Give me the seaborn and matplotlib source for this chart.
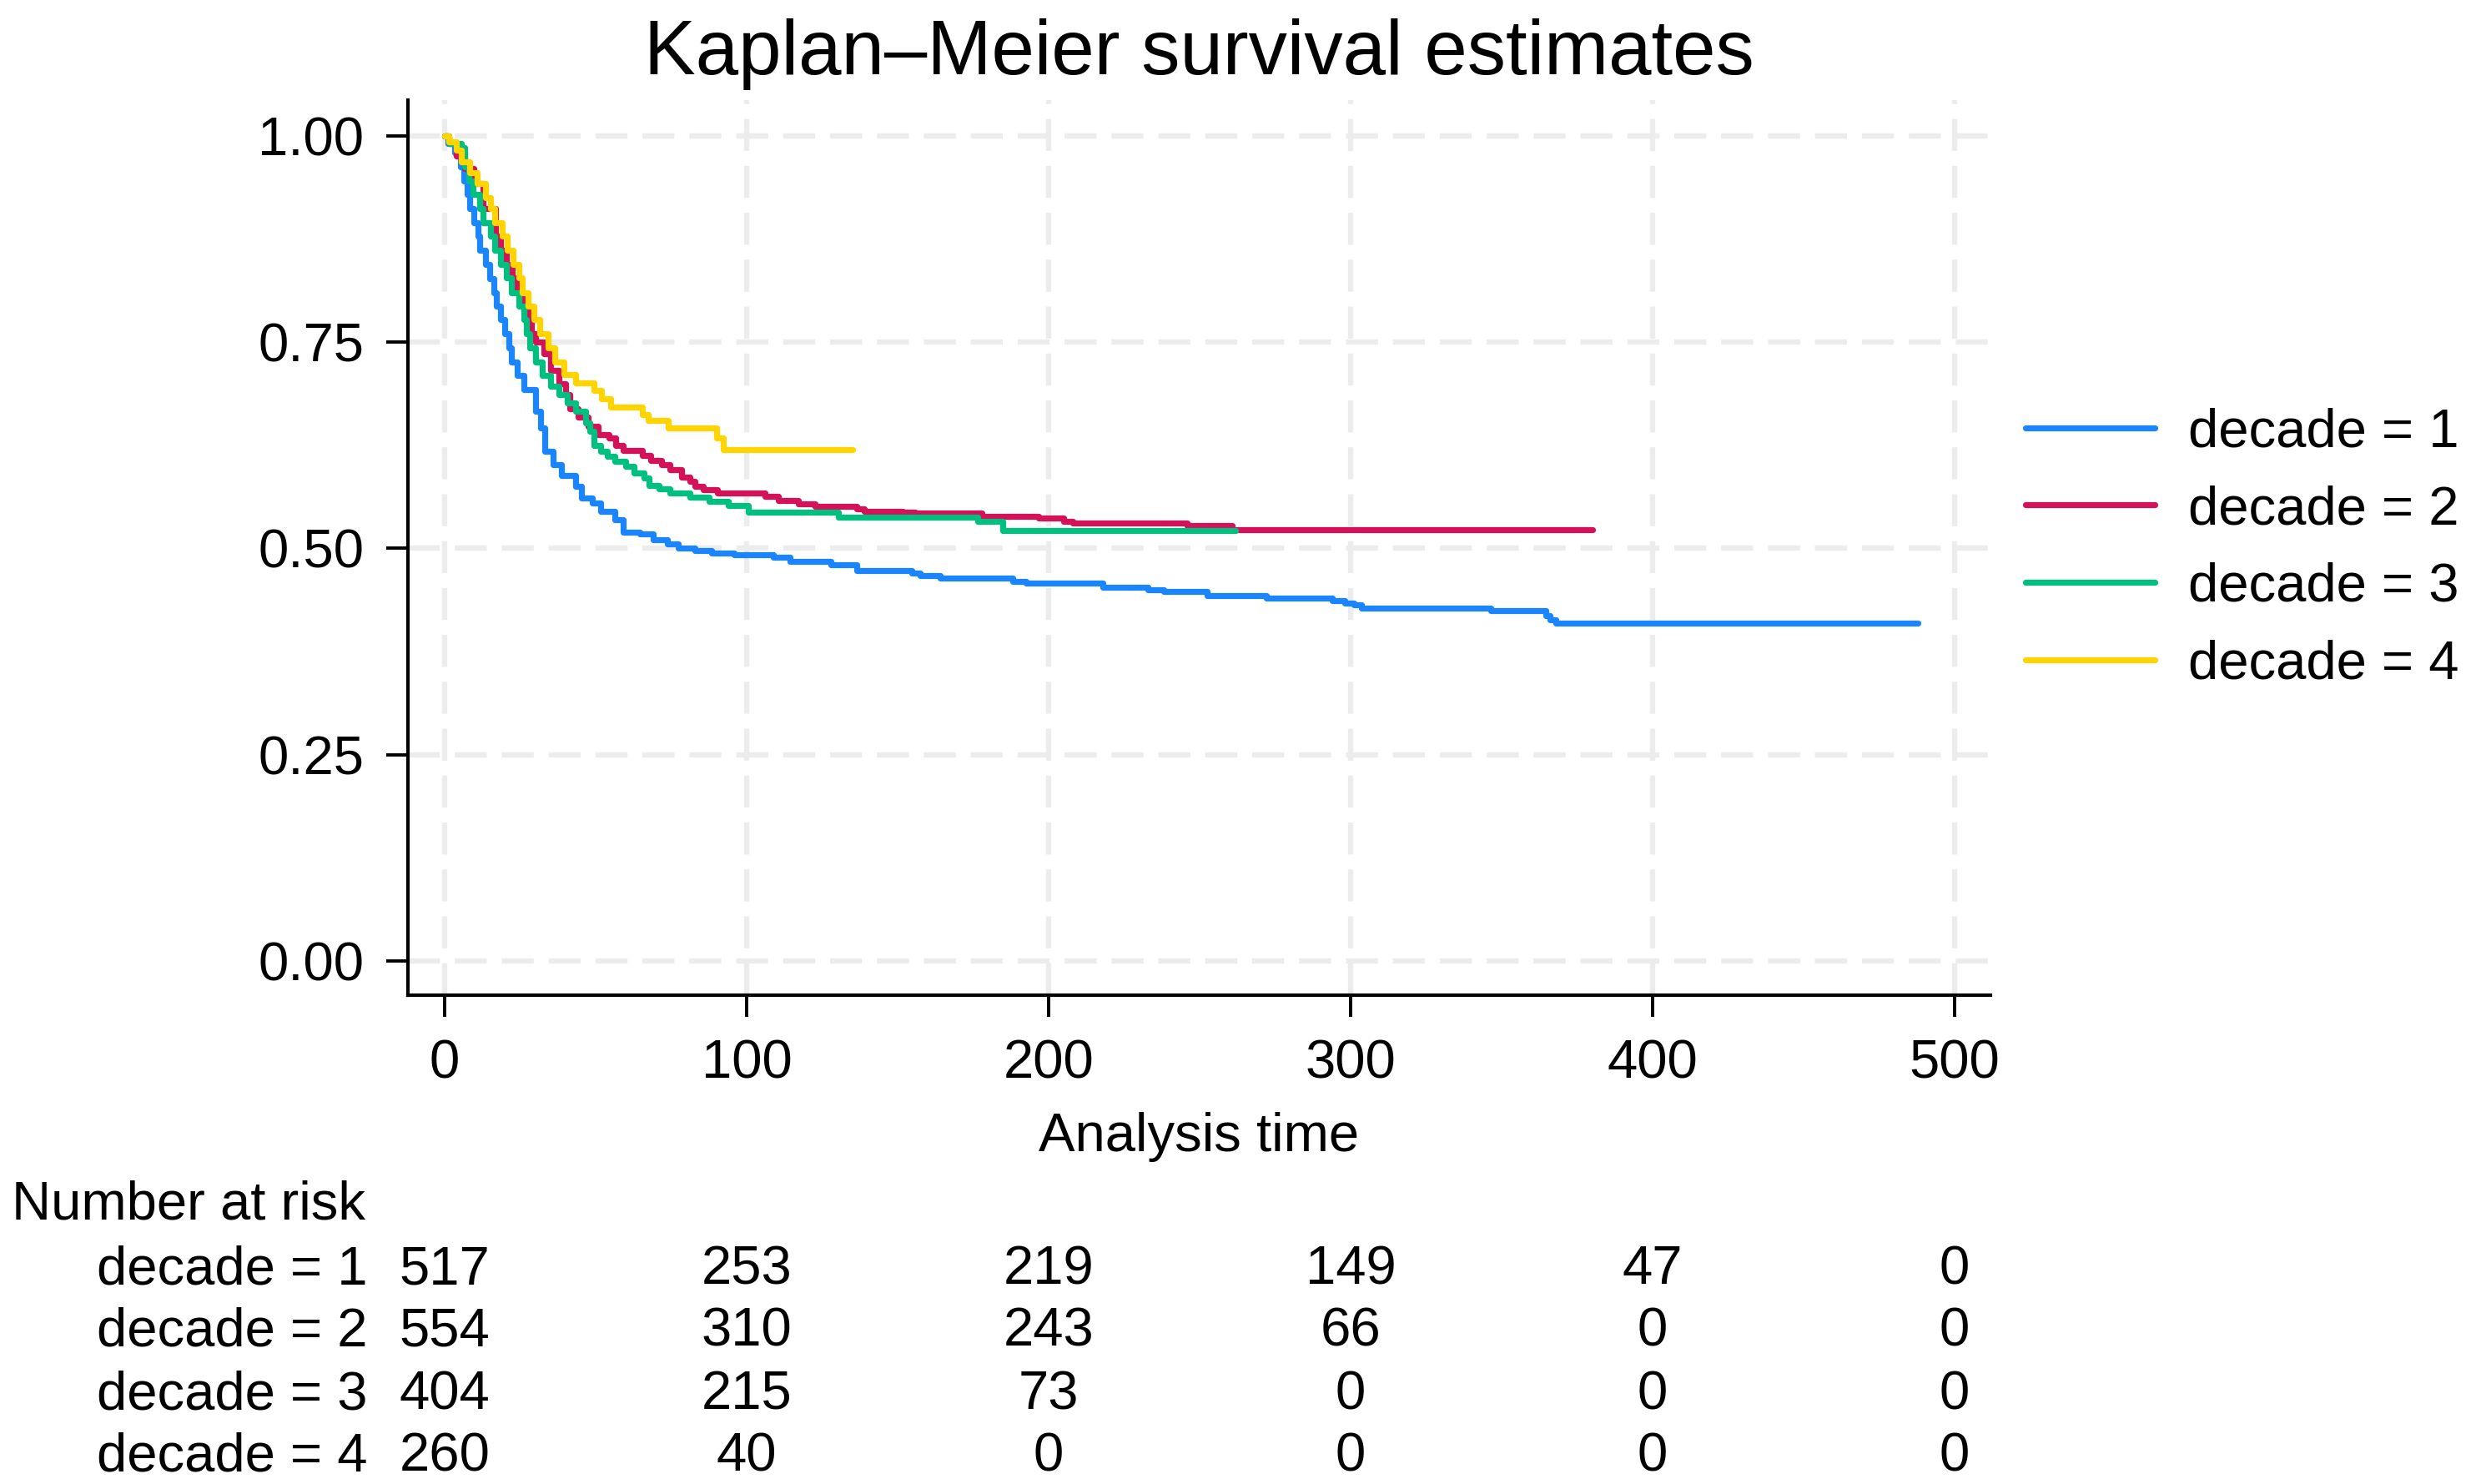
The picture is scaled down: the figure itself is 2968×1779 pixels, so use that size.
"""
Kaplan-Meier survival estimates by decade, with a number-at-risk table.
"""

import numpy as np
import pandas as pd
import matplotlib
matplotlib.use("Agg")
import matplotlib.pyplot as plt
import matplotlib.transforms as mtransforms
from matplotlib.lines import Line2D
import seaborn as sns

# --- data ----------------------------------------------------------------
groups = ["decade = 1", "decade = 2", "decade = 3", "decade = 4"]
colors = ["#1A85FF", "#D41159", "#00BF7F", "#FFD400"]

time_d1 = [0, 1, 3.3, 5.2, 6.4, 7.5, 8.3, 9.7, 11, 11.6, 13.5, 14.9, 16.3, 17.1,
           18.5, 19.9, 21.3, 22.1, 24, 26.2, 30, 31.8, 33.1, 36, 38.7, 43.4, 45.3,
           48.9, 51.7, 56.4, 59, 64.6, 69, 73.8, 77.3, 82.9, 88.4, 95.9, 108.8,
           114.4, 128, 136.5, 154.7, 157.5, 164, 188, 192.5, 218, 233, 238, 252.5,
           272, 294, 298, 301, 303.6, 346.4, 364.6, 366, 368, 488]
surv_d1 = [1, 0.99, 0.979, 0.962, 0.945, 0.929, 0.912, 0.894, 0.878, 0.861, 0.844,
           0.827, 0.81, 0.793, 0.777, 0.76, 0.743, 0.726, 0.709, 0.692, 0.666, 0.646,
           0.618, 0.601, 0.588, 0.575, 0.561, 0.555, 0.545, 0.535, 0.52, 0.517, 0.51,
           0.505, 0.5, 0.497, 0.494, 0.492, 0.489, 0.484, 0.48, 0.473, 0.470, 0.467,
           0.464, 0.460, 0.458, 0.453, 0.450, 0.448, 0.443, 0.440, 0.437, 0.434,
           0.4315, 0.428, 0.424, 0.418, 0.413, 0.409, 0.409]

time_d2 = [0, 1.5, 4, 6.5, 9.7, 12.7, 16.9, 18.5, 20.4, 22.4, 23.8, 26, 27.6, 28.7,
           30, 32.9, 35, 37.8, 40, 41.4, 44.2, 47.5, 50.8, 54.4, 56.6, 59, 65.5,
           68.2, 71.8, 74.6, 78.4, 81.2, 82.9, 85.6, 90.3, 106, 110.5, 117, 122.6,
           136.5, 139, 151.7, 155.7, 177.8, 196.7, 205, 208, 245.9, 260.7, 380]
surv_d2 = [1, 0.99, 0.975, 0.96, 0.942, 0.912, 0.878, 0.861, 0.844, 0.828, 0.81,
           0.793, 0.777, 0.76, 0.75, 0.736, 0.716, 0.699, 0.686, 0.669, 0.659, 0.648,
           0.638, 0.634, 0.625, 0.619, 0.612, 0.606, 0.601, 0.595, 0.586, 0.581,
           0.575, 0.571, 0.567, 0.563, 0.558, 0.554, 0.551, 0.548, 0.5447, 0.5433,
           0.5427, 0.539, 0.5366, 0.5326, 0.5306, 0.528, 0.523, 0.523]

time_d3 = [0, 1.5, 5.5, 6.6, 8, 9.4, 11.6, 12.7, 15.2, 16.6, 18.5, 20.4, 22.1, 24.6,
           26.2, 27, 28.2, 30, 32.3, 35, 37.8, 40.6, 43.4, 46.7, 48, 49.4, 51.7, 53.9,
           56.4, 60, 62.7, 66, 67.7, 71, 74.6, 81.2, 87.6, 93.9, 100.6, 130.4, 176.5,
           184.8, 262]
surv_d3 = [1, 0.99, 0.985, 0.962, 0.945, 0.929, 0.912, 0.894, 0.878, 0.861, 0.844,
           0.828, 0.81, 0.793, 0.777, 0.76, 0.743, 0.726, 0.709, 0.696, 0.686, 0.676,
           0.666, 0.652, 0.642, 0.625, 0.618, 0.611, 0.605, 0.599, 0.591, 0.585,
           0.576, 0.572, 0.567, 0.562, 0.557, 0.552, 0.5435, 0.538, 0.533, 0.522,
           0.522]

time_d4 = [0, 1.4, 3.9, 5.5, 8.3, 10.8, 13.5, 15.2, 16.6, 19, 20.7, 22.7, 24.6, 25.7,
           27.6, 29.6, 31.5, 34.3, 36.5, 39.5, 43.4, 49.4, 52, 54.9, 65.5, 67.3, 74,
           90, 92.2, 135]
surv_d4 = [1, 0.992, 0.982, 0.968, 0.955, 0.942, 0.925, 0.912, 0.894, 0.878, 0.861,
           0.844, 0.828, 0.81, 0.793, 0.777, 0.76, 0.743, 0.726, 0.710, 0.700, 0.691,
           0.681, 0.671, 0.662, 0.655, 0.646, 0.634, 0.620, 0.620]

risk_times = [0, 100, 200, 300, 400, 500]
risk_d1 = [517, 253, 219, 149, 47, 0]
risk_d2 = [554, 310, 243, 66, 0, 0]
risk_d3 = [404, 215, 73, 0, 0, 0]
risk_d4 = [260, 40, 0, 0, 0, 0]

y_ticks = [0.0, 0.25, 0.5, 0.75, 1.0]
x_ticks = [0, 100, 200, 300, 400, 500]

# --- build long table for seaborn ----------------------------------------
frames = []
for name, t, s in zip(groups, [time_d1, time_d2, time_d3, time_d4],
                      [surv_d1, surv_d2, surv_d3, surv_d4]):
    frames.append(pd.DataFrame({"time": t, "survival": s, "group": name}))
km_df = pd.concat(frames, ignore_index=True)

# --- style ---------------------------------------------------------------
sns.set_style("white")
plt.rcParams["font.family"] = ["Liberation Sans", "DejaVu Sans"]
plt.rcParams.update({
    "text.color": "black",
    "axes.labelcolor": "black",
    "xtick.color": "black",
    "ytick.color": "black",
})
FS = 23.5
LW = 2.6

W, H, DPI = 2968, 1779, 200
fig = plt.figure(figsize=(W / DPI, H / DPI), dpi=DPI)
ax = fig.add_axes([489 / W, 1 - 1193 / H, (2386 - 489) / W, (1193 - 120) / H])

sns.lineplot(
    data=km_df, x="time", y="survival", hue="group",
    palette=colors, hue_order=groups,
    estimator=None, sort=False, drawstyle="steps-post",
    linewidth=LW, legend=False, ax=ax
)

ax.set_xlim(-12.15, 511.9)
ax.set_ylim(-0.0414, 1.043)
ax.set_xticks(x_ticks)
ax.set_yticks(y_ticks)
ax.set_yticklabels([f"{v:.2f}" for v in y_ticks])

# dashed light grid
grid_kw = dict(color="#ECECEC", linewidth=2.3, linestyle=(0, (6, 2.8)), zorder=0)
for xv in x_ticks:
    ax.axvline(xv, **grid_kw)
for yv in y_ticks:
    ax.axhline(yv, **grid_kw)

for side in ["top", "right"]:
    ax.spines[side].set_visible(False)
for side in ["left", "bottom"]:
    ax.spines[side].set_linewidth(1.5)
    ax.spines[side].set_color("black")

ax.tick_params(axis="both", which="major", labelsize=FS, length=9.5,
               width=1.4, pad=9.4, color="black", labelcolor="black",
               left=True, bottom=True)
ax.set_xlabel("Analysis time", fontsize=FS, labelpad=10, color="black")
ax.set_ylabel("")

fig.text((489 + 2386) / 2 / W, 1 - 89 / H, "Kaplan\u2013Meier survival estimates",
         ha="center", va="baseline", fontsize=33.3, color="black")

# legend on the right
handles = [Line2D([0], [0], color=c, linewidth=LW) for c in colors]
leg = fig.legend(handles, groups, loc="center left",
                 bbox_to_anchor=(2428 / W, 1 - 657.5 / H), frameon=False,
                 fontsize=FS, handlelength=2.37, handletextpad=0.61,
                 labelspacing=0.5, borderpad=0, borderaxespad=0)
for txt in leg.get_texts():
    txt.set_color("black")

# number-at-risk table
trans = mtransforms.blended_transform_factory(ax.transData, fig.transFigure)
fig.text(14 / W, 1 - 1462 / H, "Number at risk", ha="left", va="baseline",
         fontsize=FS, color="black")
row_base = [1539, 1614, 1689, 1764]
for name, counts, yb in zip(groups, [risk_d1, risk_d2, risk_d3, risk_d4], row_base):
    fig.text(440 / W, 1 - yb / H, name, ha="right", va="baseline",
             fontsize=FS, color="black")
    for tx, n in zip(risk_times, counts):
        ax.text(tx, 1 - yb / H, str(n), transform=trans, ha="center",
                va="baseline", fontsize=FS, clip_on=False, color="black")

fig.savefig("out.png", dpi=DPI, facecolor="white")
plt.close(fig)
